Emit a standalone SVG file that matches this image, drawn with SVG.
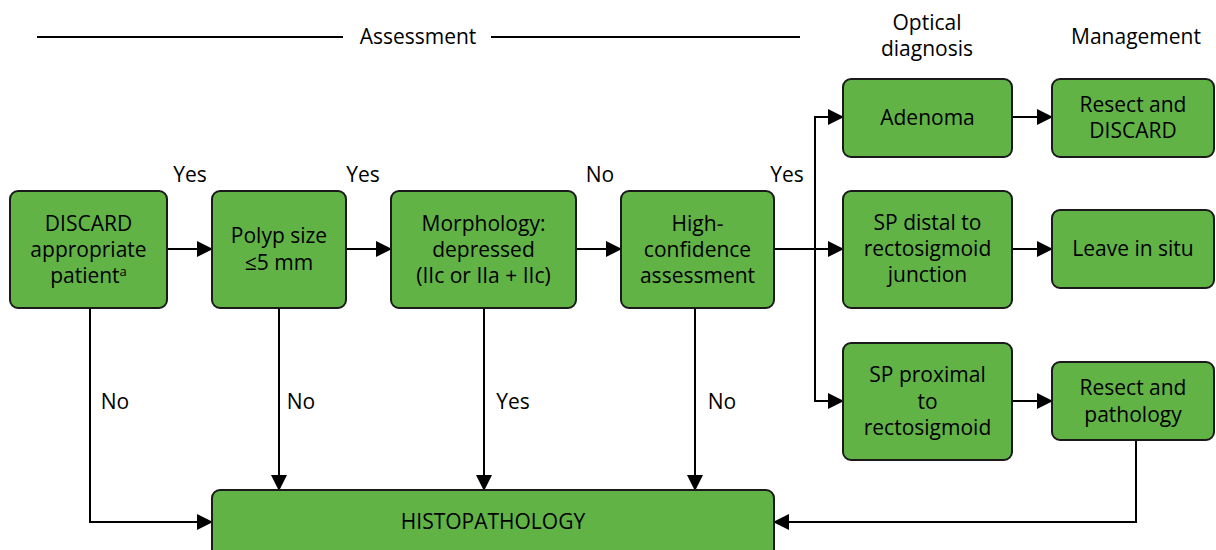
<svg xmlns="http://www.w3.org/2000/svg" width="1216" height="550" viewBox="0 0 1216 550">
<defs>
<marker id="ah" markerWidth="16" markerHeight="16" refX="15" refY="8" orient="auto" markerUnits="userSpaceOnUse">
<path d="M0,0 L16,8 L0,16 Z" fill="#000"/>
</marker>
<style>
.n{fill:#62b346;stroke:#1a1a1a;stroke-width:2}
text{font-family:"Open Sans","Liberation Sans",sans-serif;font-size:21px;fill:#000}
.c{text-anchor:middle}
.e{fill:none;stroke:#000;stroke-width:2}
.a{marker-end:url(#ah)}
</style>
</defs>
<rect width="1216" height="550" fill="#fff"/>
<g id="header">
<line x1="37" y1="37" x2="343" y2="37" class="e"/>
<line x1="491" y1="37" x2="800" y2="37" class="e"/>
<text x="418" y="44" class="c">Assessment</text>
<text x="927" y="30" class="c">Optical</text>
<text x="927" y="56" class="c">diagnosis</text>
<text x="1136" y="44" class="c">Management</text>
</g>
<g id="connectors">
<line x1="167" y1="249" x2="212" y2="249" class="e a"/>
<line x1="346" y1="249" x2="391" y2="249" class="e a"/>
<line x1="576" y1="249" x2="621" y2="249" class="e a"/>
<line x1="774" y1="249" x2="843" y2="249" class="e a"/>
<line x1="815" y1="117" x2="815" y2="401" class="e"/>
<line x1="814" y1="117" x2="843" y2="117" class="e a"/>
<line x1="814" y1="401" x2="843" y2="401" class="e a"/>
<line x1="1012" y1="117" x2="1052" y2="117" class="e a"/>
<line x1="1012" y1="249" x2="1052" y2="249" class="e a"/>
<line x1="1012" y1="401" x2="1052" y2="401" class="e a"/>
<polyline points="1136,440 1136,522 774,522" class="e a"/>
<polyline points="90,308 90,522 212,522" class="e a"/>
<line x1="279" y1="308" x2="279" y2="490" class="e a"/>
<line x1="484" y1="308" x2="484" y2="490" class="e a"/>
<line x1="695" y1="308" x2="695" y2="490" class="e a"/>
<text x="190" y="182" class="c">Yes</text>
<text x="363" y="182" class="c">Yes</text>
<text x="600" y="182" class="c">No</text>
<text x="787" y="182" class="c">Yes</text>
<text x="115" y="409" class="c">No</text>
<text x="301" y="409" class="c">No</text>
<text x="513" y="409" class="c">Yes</text>
<text x="722" y="409" class="c">No</text>
</g>
<g id="discard">
<rect x="10" y="191" width="157" height="117" rx="8" class="n"/>
<text x="88.5" y="231" class="c">DISCARD</text>
<text x="88.5" y="257" class="c">appropriate</text>
<text x="88.5" y="283" class="c">patient<tspan font-size="13" dy="-7">a</tspan></text>
</g>
<g id="polyp">
<rect x="212" y="191" width="134" height="117" rx="8" class="n"/>
<text x="279" y="243" class="c">Polyp size</text>
<text x="279" y="270" class="c">≤5 mm</text>
</g>
<g id="morphology">
<rect x="391" y="191" width="185" height="117" rx="8" class="n"/>
<text x="483.5" y="231" class="c">Morphology:</text>
<text x="483.5" y="257" class="c">depressed</text>
<text x="483.5" y="283" class="c">(IIc or IIa + IIc)</text>
</g>
<g id="highconf">
<rect x="621" y="191" width="153" height="117" rx="8" class="n"/>
<text x="697.5" y="231" class="c">High-</text>
<text x="697.5" y="257" class="c">confidence</text>
<text x="697.5" y="283" class="c">assessment</text>
</g>
<g id="adenoma">
<rect x="843" y="79" width="169" height="78" rx="8" class="n"/>
<text x="927.5" y="125" class="c">Adenoma</text>
</g>
<g id="resectdiscard">
<rect x="1052" y="79" width="162" height="78" rx="8" class="n"/>
<text x="1133" y="112" class="c">Resect and</text>
<text x="1133" y="138" class="c">DISCARD</text>
</g>
<g id="spdistal">
<rect x="843" y="191" width="169" height="117" rx="8" class="n"/>
<text x="927.5" y="230" class="c">SP distal to</text>
<text x="927.5" y="256" class="c">rectosigmoid</text>
<text x="927.5" y="282" class="c">junction</text>
</g>
<g id="leave">
<rect x="1052" y="210" width="162" height="78" rx="8" class="n"/>
<text x="1133" y="256" class="c">Leave in situ</text>
</g>
<g id="spproximal">
<rect x="843" y="343" width="169" height="117" rx="8" class="n"/>
<text x="927.5" y="382" class="c">SP proximal</text>
<text x="927.5" y="409" class="c">to</text>
<text x="927.5" y="435" class="c">rectosigmoid</text>
</g>
<g id="resectpath">
<rect x="1052" y="362" width="162" height="78" rx="8" class="n"/>
<text x="1133" y="395" class="c">Resect and</text>
<text x="1133" y="422" class="c">pathology</text>
</g>
<g id="histopathology">
<rect x="212" y="490" width="562" height="80" rx="8" class="n"/>
<text x="493" y="529" class="c">HISTOPATHOLOGY</text>
</g>
</svg>
